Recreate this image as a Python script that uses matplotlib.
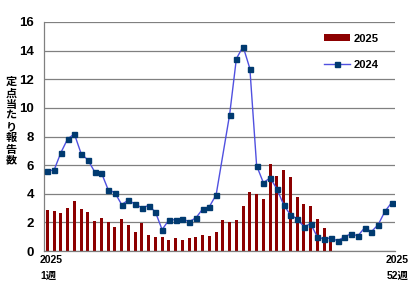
import numpy as np
from matplotlib import pyplot as plt
from matplotlib.lines import Line2D
from matplotlib.patches import Patch

# 定点当たり報告数 (週別)
weeks = np.arange(1, 53)

cases_2025 = [2.87, 2.80, 2.66, 3.00, 3.49, 2.94, 2.73, 2.10, 2.31, 2.03,
              1.68, 2.24, 1.82, 1.33, 1.98, 1.12, 0.98, 0.98, 0.77, 0.91,
              0.77, 0.91, 0.98, 1.12, 1.05, 1.33, 2.17, 2.03, 2.17, 3.14,
              4.12, 3.98, 3.63, 6.08, 5.24, 5.66, 5.17, 3.77, 3.28, 3.14,
              2.24, 1.61, 0.88]

# week 27 has no marker in the source
cases_2024 = [5.59, 5.66, 6.87, 7.83, 8.18, 6.80, 6.36, 5.54, 5.47, 4.29,
              4.08, 3.24, 3.56, 3.26, 3.03, 3.17, 2.73, 1.49, 2.17, 2.19,
              2.24, 2.05, 2.31, 2.93, 3.10, 3.92, np.nan, 9.53, 13.44, 14.28,
              12.74, 5.96, 4.77, 5.11, 4.34, 3.23, 2.53, 2.25, 1.70, 1.90,
              0.98, 0.84, 0.92, 0.71, 0.99, 1.20, 1.06, 1.62, 1.35, 1.83,
              2.76, 3.38]

label_2025 = '2025'
label_2024 = '2024'
ylabel = '定点当たり報告数'
xlabel_first = '2025\n1週'
xlabel_last = '2025\n52週'

fonts = ['Liberation Sans', 'Noto Sans CJK JP', 'DejaVu Sans']
plt.rcParams['font.family'] = fonts

W, H = 418, 292
fig = plt.figure(figsize=(W/100, H/100), dpi=100)
ax = fig.add_axes([44/W, 1-251/H, (395-44)/W, (251-22)/H])

bar_x = np.arange(len(cases_2025))
ax.bar(bar_x, cases_2025, width=0.47, color='#8c0000', zorder=2)

c24 = np.array(cases_2024)
ok = ~np.isnan(c24)
x24 = np.arange(len(c24))[ok]
ax.plot(x24, c24[ok], color='#5050e0', lw=1, marker='s', ms=3.6,
        mfc='#003a70', mec='#003a70', zorder=3)

ax.set_xlim(-0.5, 51.5)
ax.set_ylim(0, 16)
ax.set_yticks(np.arange(0, 17, 2))
ax.set_xticks([])
ax.tick_params(axis='y', length=0, pad=7, labelsize=9.5)
for t in ax.get_yticklabels():
    t.set_fontweight('bold')
ax.yaxis.grid(True, color='#808080', lw=0.9, zorder=1)
ax.set_axisbelow(True)
for s in ['top', 'right']:
    ax.spines[s].set_visible(False)
for s in ['left', 'bottom']:
    ax.spines[s].set_color('#808080')
    ax.spines[s].set_linewidth(0.9)

# vertical stacked y label, one char per line
fig.text(11/W, 1-121/H, '\n'.join(ylabel), ha='center', va='center',
         fontsize=8, fontweight='bold', linespacing=0.82,
         family=['Noto Sans CJK JP', 'DejaVu Sans'])

fig.text(40/W, 1-268/H, xlabel_first, ha='left', va='center',
         fontsize=7.5, fontweight='bold', linespacing=1.75)
fig.text(409/W, 1-268/H, xlabel_last, ha='right', va='center',
         fontsize=7.5, fontweight='bold', linespacing=1.75)

handles = [Patch(facecolor='#8c0000', label=label_2025),
           Line2D([], [], color='#5050e0', lw=1, marker='s', ms=3.6,
                  mfc='#003a70', mec='#003a70', label=label_2024)]
leg = ax.legend(handles=handles, loc='upper left',
                bbox_to_anchor=(318/W, 1-28/H), bbox_transform=fig.transFigure,
                frameon=False, borderpad=0, handlelength=2.4, handleheight=0.6,
                handletextpad=0.35, labelspacing=1.45,
                prop={'size': 8, 'weight': 'bold'})

fig.savefig('out.png', dpi=100)
